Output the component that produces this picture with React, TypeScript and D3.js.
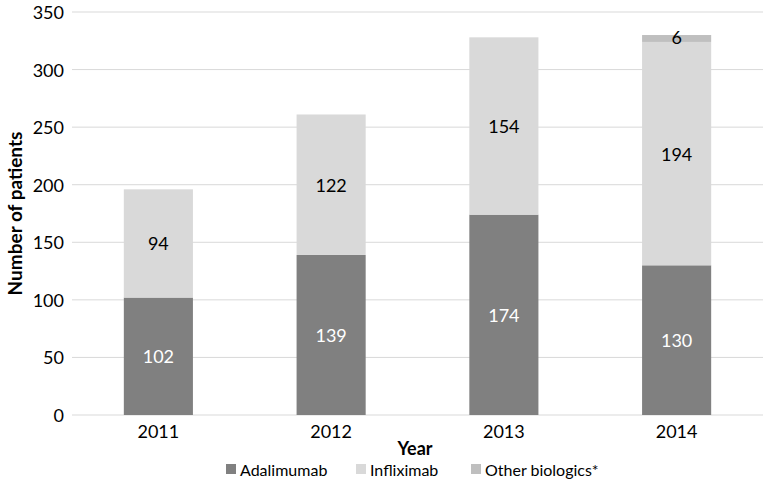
import React from "react";
import * as d3 from "d3";

const years = ["2011", "2012", "2013", "2014"];
const adalimumab = [102, 139, 174, 130];
const infliximab = [94, 122, 154, 194];
const otherBiologics = [0, 0, 0, 6];
const yTicks = [0, 50, 100, 150, 200, 250, 300, 350];

const seriesNames = ["Adalimumab", "Infliximab", "Other biologics*"];
const seriesColors = ["#808080", "#d9d9d9", "#bfbfbf"];
const labelColors = ["#ffffff", "#000000", "#000000"];

const font = "Lato, 'Open Sans', sans-serif";

const App = () => {
  const width = 765;
  const height = 492;
  const margin = { left: 72, right: 2, top: 12, bottom: 77 };

  const x = d3
    .scaleBand()
    .domain(years)
    .range([margin.left, width - margin.right])
    .paddingInner(0.6)
    .paddingOuter(0.3);
  const y = d3
    .scaleLinear()
    .domain([0, 350])
    .range([height - margin.bottom, margin.top]);

  const rows = years.map((yr, i) => ({
    year: yr,
    Adalimumab: adalimumab[i],
    Infliximab: infliximab[i],
    "Other biologics*": otherBiologics[i],
  }));
  const stack = d3.stack().keys(seriesNames)(rows as any);

  const legendX = [226, 356, 471];

  return (
    <svg
      width={width}
      height={height}
      style={{ position: "absolute", left: 0, top: 0, fontFamily: font }}
    >
      {yTicks.map(t => (
        <g key={t}>
          <line
            x1={margin.left}
            x2={width - margin.right}
            y1={y(t)}
            y2={y(t)}
            stroke="#d9d9d9"
            strokeWidth={1}
          />
          <text
            x={64}
            y={y(t)}
            textAnchor="end"
            dominantBaseline="central"
            fontSize={18}
            fill="#000"
          >
            {t}
          </text>
        </g>
      ))}

      {stack.map((s, si) =>
        s.map((d, i) => {
          const v = d[1] - d[0];
          if (v <= 0) return null;
          return (
            <g key={si + "-" + i}>
              <rect
                x={x(years[i])}
                width={x.bandwidth()}
                y={y(d[1])}
                height={y(d[0]) - y(d[1])}
                fill={seriesColors[si]}
              />
              <text
                x={x(years[i])! + x.bandwidth() / 2}
                y={si === 2 ? y(d[1]) + 2 : y((d[0] + d[1]) / 2)}
                textAnchor="middle"
                dominantBaseline="central"
                fontSize={18}
                fill={labelColors[si]}
              >
                {v}
              </text>
            </g>
          );
        })
      )}

      {years.map(yr => (
        <text
          key={yr}
          x={x(yr)! + x.bandwidth() / 2}
          y={431}
          textAnchor="middle"
          dominantBaseline="central"
          fontSize={18}
          fill="#000"
        >
          {yr}
        </text>
      ))}

      <text
        x={415}
        y={448}
        textAnchor="middle"
        dominantBaseline="central"
        fontSize={18}
        fontWeight="bold"
      >
        Year
      </text>
      <text
        transform={`translate(14, ${(margin.top + height - margin.bottom) / 2}) rotate(-90)`}
        textAnchor="middle"
        dominantBaseline="central"
        fontSize={19}
        fontWeight="bold"
      >
        Number of patients
      </text>

      {seriesNames.map((n, i) => (
        <g key={n}>
          <rect x={legendX[i]} y={464} width={10} height={10} fill={seriesColors[i]} />
          <text
            x={legendX[i] + 14}
            y={469}
            dominantBaseline="central"
            fontSize={16}
            fill="#000"
          >
            {n}
          </text>
        </g>
      ))}
    </svg>
  );
};

export default App;
